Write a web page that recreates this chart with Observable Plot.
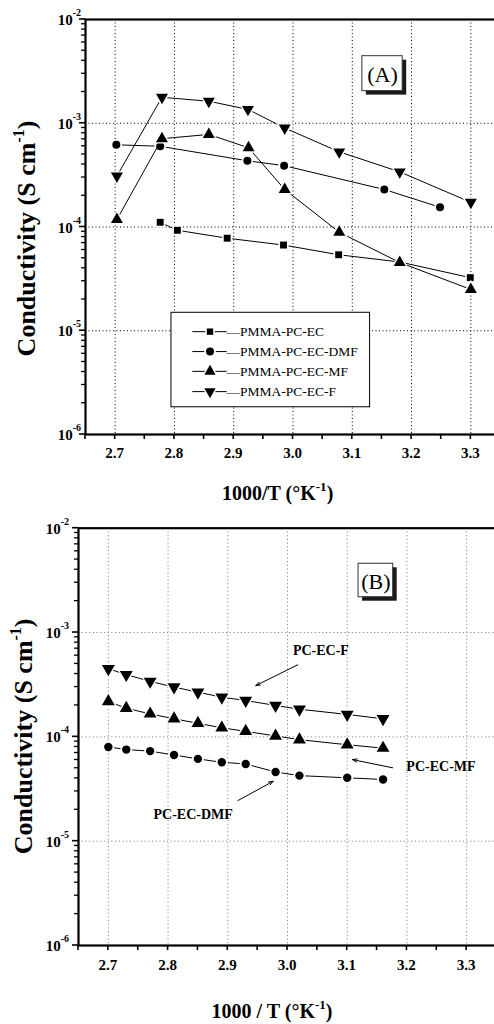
<!DOCTYPE html>
<html>
<head>
<meta charset="utf-8">
<script src="https://cdn.jsdelivr.net/npm/d3@7"></script>
<script src="https://cdn.jsdelivr.net/npm/@observablehq/plot@0.6"></script>
<style>
  html, body { margin: 0; padding: 0; background: #fff; overflow: hidden; }
  #chart { width: 494px; }
  #chart svg { display: block; }
</style>
</head>
<body>
<div id="chart"></div>
<script>
// Axis ticks shared by both panels
const xTicks = [2.7, 2.8, 2.9, 3.0, 3.1, 3.2, 3.3];
const xTickLabels = ["2.7", "2.8", "2.9", "3.0", "3.1", "3.2", "3.3"];
const yDecades = [1e-6, 1e-5, 1e-4, 1e-3, 1e-2];
const yDecadeExponents = ["-6", "-5", "-4", "-3", "-2"];

// Panel (A): PMMA gel electrolytes, 1000/T (K^-1) vs conductivity (S/cm)
const seriesA = ["PMMA-PC-EC", "PMMA-PC-EC-DMF", "PMMA-PC-EC-MF", "PMMA-PC-EC-F"];
const xA_EC  = [2.776, 2.805, 2.889, 2.984, 3.077, 3.180, 3.299];
const yA_EC  = [1.11e-4, 9.3e-5, 7.8e-5, 6.7e-5, 5.4e-5, 4.6e-5, 3.25e-5];
const xA_DMF = [2.702, 2.776, 2.923, 2.985, 3.154, 3.248];
const yA_DMF = [6.2e-4, 6.0e-4, 4.35e-4, 3.9e-4, 2.3e-4, 1.55e-4];
const xA_MF  = [2.703, 2.779, 2.858, 2.925, 2.986, 3.078, 3.180, 3.300];
const yA_MF  = [1.18e-4, 7.1e-4, 7.8e-4, 5.8e-4, 2.3e-4, 8.9e-5, 4.55e-5, 2.5e-5];
const xA_F   = [2.703, 2.779, 2.858, 2.924, 2.986, 3.078, 3.180, 3.300];
const yA_F   = [3.1e-4, 1.78e-3, 1.63e-3, 1.36e-3, 9.0e-4, 5.3e-4, 3.4e-4, 1.73e-4];

// Panel (B): liquid electrolytes
const xB     = [2.70, 2.73, 2.77, 2.81, 2.85, 2.89, 2.93, 2.98, 3.02, 3.10, 3.16];
const yB_F   = [4.5e-4, 3.95e-4, 3.4e-4, 3.0e-4, 2.68e-4, 2.4e-4, 2.23e-4, 2.0e-4, 1.84e-4, 1.64e-4, 1.49e-4];
const yB_MF  = [2.18e-4, 1.88e-4, 1.66e-4, 1.49e-4, 1.35e-4, 1.22e-4, 1.13e-4, 1.02e-4, 9.4e-5, 8.4e-5, 7.8e-5];
const yB_DMF = [8.0e-5, 7.55e-5, 7.3e-5, 6.7e-5, 6.15e-5, 5.7e-5, 5.5e-5, 4.6e-5, 4.25e-5, 4.05e-5, 3.9e-5];

// Callouts in panel (B): label position and arrow from/to, in data units
const calloutLabels = ["PC-EC-F", "PC-EC-MF", "PC-EC-DMF"];
const calloutTextX  = [3.056, 3.257, 2.842];
const calloutTextY  = [6.7e-4, 5.2e-5, 1.8e-5];
const calloutX1     = [3.017, 3.176, 2.917];
const calloutY1     = [4.9e-4, 5.05e-5, 2.45e-5];
const calloutX2     = [2.947, 3.109, 2.976];
const calloutY2     = [3.1e-4, 6.05e-5, 3.75e-5];

// Legend of panel (A), in data units
const legendRowY   = [9.8e-6, 6.3e-6, 4.06e-6, 2.59e-6];
const legendBoxX   = [2.795, 3.130];
const legendBoxY   = [1.83e-6, 1.49e-5];
const legendLineX  = [2.831, 2.889];
const legendMarkX  = 2.860;
const legendTextX  = 2.893;

// Panel tags "(A)" and "(B)": box extents in data units
const tagA = {label: "(A)", x1: 3.117, x2: 3.185, y1: 2.04e-3, y2: 4.43e-3};
const tagB = {label: "(B)", x1: 3.119, x2: 3.177, y1: 2.18e-3, y2: 4.56e-3};

const SERIF = "'Liberation Serif', 'Times New Roman', Times, serif";

// Downward-pointing triangle symbol (mirror of d3.symbolTriangle)
const triangleDown = {
  draw(context, size) {
    const y = -Math.sqrt(size / (Math.sqrt(3) * 3));
    context.moveTo(0, -y * 2);
    context.lineTo(-Math.sqrt(3) * y, y);
    context.lineTo(Math.sqrt(3) * y, y);
    context.closePath();
  }
};

const pts = (xs, ys) => xs.map((x, i) => ({x, y: ys[i]}));

// Line with markers; a white halo under each marker breaks the line near it
function markedLine(data, symbol, r, lineWidth = 1) {
  return [
    Plot.line(data, {x: "x", y: "y", stroke: "black", strokeWidth: lineWidth}),
    Plot.dot(data, {x: "x", y: "y", symbol, r: r + 1.8, fill: "white", stroke: "none"}),
    Plot.dot(data, {x: "x", y: "y", symbol, r, fill: "black", stroke: "none"})
  ];
}

// Axis lines, ticks, tick labels and axis titles drawn from the plot scales
function axisLayer({xTitle, yTitleShift, yTitleX, xTitleBaseline, tickLabelOffset, yLabelGap}) {
  return (index, scales, values, dims) => {
    const {x, y} = scales;
    const x0 = dims.marginLeft;
    const yb = dims.height - dims.marginBottom;
    const g = d3.create("svg:g")
      .attr("font-family", SERIF)
      .attr("font-weight", "bold")
      .attr("fill", "black");

    // minor log ticks on the y axis
    const yMinor = [];
    for (const d of yDecades.slice(0, -1)) for (let k = 2; k <= 9; ++k) yMinor.push(d * k);
    g.append("g").attr("stroke", "black").attr("stroke-width", 1.3)
      .selectAll("line").data(yMinor).join("line")
      .attr("x1", x0).attr("x2", x0 - 4)
      .attr("y1", d => y(d)).attr("y2", d => y(d));
    g.append("g").attr("stroke", "black").attr("stroke-width", 1.6)
      .selectAll("line").data(yDecades).join("line")
      .attr("x1", x0).attr("x2", x0 - 6)
      .attr("y1", d => y(d)).attr("y2", d => y(d));

    // y tick labels 10^n
    const yl = g.append("g").attr("font-size", 15).attr("text-anchor", "end")
      .selectAll("text").data(yDecades).join("text")
      .attr("x", x0 - yLabelGap).attr("y", d => y(d) + 6);
    yl.append("tspan").text("10");
    yl.append("tspan").attr("dy", -9).attr("font-size", 10).text((d, i) => yDecadeExponents[i]);

    // x ticks: majors at the labelled values, minors halfway
    const xMinor = [xTicks[0] - 0.05, ...xTicks.map(v => v + 0.05)];
    g.append("g").attr("stroke", "black").attr("stroke-width", 1.6)
      .selectAll("line").data([...xTicks, ...xMinor]).join("line")
      .attr("x1", d => x(d)).attr("x2", d => x(d))
      .attr("y1", yb).attr("y2", yb + 5);
    g.append("g").attr("font-size", 15).attr("text-anchor", "middle")
      .selectAll("text").data(xTicks).join("text")
      .attr("x", d => x(d)).attr("y", yb + tickLabelOffset)
      .text((d, i) => xTickLabels[i]);

    // x title
    const xt = g.append("text").attr("font-size", 20).attr("text-anchor", "middle")
      .attr("x", x((xTicks[0] - 0.05 + xTicks[xTicks.length - 1]) / 2)).attr("y", xTitleBaseline);
    xt.append("tspan").text(xTitle);
    xt.append("tspan").attr("dy", -9).attr("font-size", 13).text("-1");
    xt.append("tspan").attr("dy", 9).text(")");

    // y title
    const cy = (dims.marginTop + yb) / 2 + yTitleShift;
    const yt = g.append("text").attr("font-size", 26).attr("text-anchor", "middle")
      .attr("transform", `translate(${yTitleX},${cy}) rotate(-90)`);
    yt.append("tspan").text("Conductivity (S cm");
    yt.append("tspan").attr("dy", -11).attr("font-size", 16).text("-1");
    yt.append("tspan").attr("dy", 11).text(")");
    return g.node();
  };
}

// Boxed panel tag with a drop shadow
function tagMarks(tag) {
  return [
    Plot.rect([tag], {x1: "x1", x2: "x2", y1: "y1", y2: "y2", fill: "#1a1a1a", dx: 4, dy: 4}),
    Plot.rect([tag], {x1: "x1", x2: "x2", y1: "y1", y2: "y2", fill: "white", stroke: "#333", strokeWidth: 1}),
    Plot.text([tag], {
      x: d => (d.x1 + d.x2) / 2, y: d => Math.sqrt(d.y1 * d.y2), text: "label",
      fontFamily: SERIF, fontSize: 22, fill: "black", dy: 1
    })
  ];
}

function gridMarks(color, dash) {
  return [
    Plot.ruleX(xTicks, {stroke: color, strokeWidth: 1, strokeDasharray: dash}),
    Plot.ruleY(yDecades.slice(1, -1), {stroke: color, strokeWidth: 1, strokeDasharray: dash})
  ];
}

const common = {
  width: 494,
  x: {domain: [2.65, 3.35], axis: null},
  y: {type: "log", domain: [1e-6, 1e-2], axis: null},
  style: {background: "white", overflow: "hidden"}
};

// ---- Panel (A)
const legendRows = seriesA.map((name, i) => ({name, y: legendRowY[i]}));
const legendSymbols = ["square", "circle", "triangle", triangleDown];
const legendRadii = [3.6, 4, 4.2, 4.2];

const plotA = Plot.plot({
  ...common,
  height: 510,
  marginTop: 19,
  marginBottom: 76,
  marginLeft: 85,
  marginRight: -6,
  marks: [
    ...gridMarks("black", "1,2.5"),
    ...markedLine(pts(xA_EC, yA_EC), "square", 3.9),
    ...markedLine(pts(xA_DMF, yA_DMF), "circle", 4),
    ...markedLine(pts(xA_MF, yA_MF), "triangle", 4.45),
    ...markedLine(pts(xA_F, yA_F), triangleDown, 4.45),
    ...tagMarks(tagA),
    // legend
    Plot.rect([0], {x1: legendBoxX[0], x2: legendBoxX[1], y1: legendBoxY[0], y2: legendBoxY[1], fill: "white", stroke: "black", strokeWidth: 1}),
    Plot.ruleY(legendRows, {y: "y", x1: legendLineX[0], x2: legendLineX[1], stroke: "black", strokeWidth: 1}),
    ...legendRows.flatMap((row, i) => [
      Plot.dot([row], {x: legendMarkX, y: "y", symbol: legendSymbols[i], r: legendRadii[i] + 1.8, fill: "white", stroke: "none"}),
      Plot.dot([row], {x: legendMarkX, y: "y", symbol: legendSymbols[i], r: legendRadii[i], fill: "black", stroke: "none"})
    ]),
    Plot.text(legendRows, {x: legendTextX, y: "y", text: d => "\u2014" + d.name, textAnchor: "start", fontFamily: SERIF, fontSize: 13.5, fill: "black", dx: -3}),
    Plot.frame({stroke: "black", strokeWidth: 2.2}),
    axisLayer({xTitle: "1000/T (\u00b0K", yTitleShift: 12, yTitleX: 35, xTitleBaseline: 500, tickLabelOffset: 24, yLabelGap: 4})
  ]
});

// ---- Panel (B)
const callouts = calloutLabels.map((label, i) => ({
  label, tx: calloutTextX[i], ty: calloutTextY[i],
  x1: calloutX1[i], y1: calloutY1[i], x2: calloutX2[i], y2: calloutY2[i]
}));

const plotB = Plot.plot({
  ...common,
  height: 514,
  marginTop: 17.7,
  marginBottom: 79,
  marginLeft: 78,
  marginRight: -2,
  marks: [
    ...gridMarks("#8a8a8a", "1.2,2.5"),
    ...markedLine(pts(xB, yB_DMF), "circle", 4.2),
    ...markedLine(pts(xB, yB_MF), "triangle", 4.8),
    ...markedLine(pts(xB, yB_F), triangleDown, 4.8),
    ...tagMarks(tagB),
    Plot.arrow(callouts, {x1: "x1", y1: "y1", x2: "x2", y2: "y2", stroke: "black", strokeWidth: 1, headLength: 7, headAngle: 40}),
    Plot.text(callouts, {x: "tx", y: "ty", text: "label", fontFamily: SERIF, fontWeight: "bold", fontSize: 14, fill: "black"}),
    Plot.frame({stroke: "black", strokeWidth: 2.2}),
    axisLayer({xTitle: "1000 / T (\u00b0K", yTitleShift: 0, yTitleX: 32, xTitleBaseline: 508, tickLabelOffset: 25, yLabelGap: 9})
  ]
});

const chart = document.getElementById("chart");
chart.append(plotA, plotB);
</script>
</body>
</html>
